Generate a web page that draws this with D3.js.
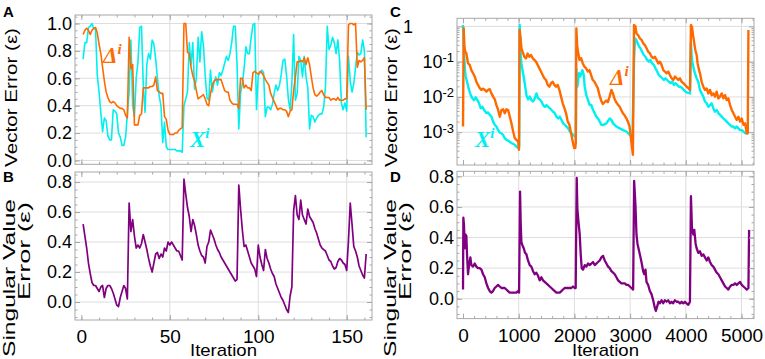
<!DOCTYPE html>
<html>
<head>
<meta charset="utf-8">
<script src="https://cdn.jsdelivr.net/npm/d3@7/dist/d3.min.js"></script>
<style>
  body { margin: 0; background: #fff; }
  svg text { font-family: "Liberation Sans", Arial, sans-serif; }
</style>
</head>
<body>
<svg id="fig" width="765" height="359"></svg>
<script>
// ---- values ----
// A: vector error, one value per iteration (1..161)
var aDelta = [
  .92,.95,.965,.95,.92,.95,.965,.97,.93,.85,
  .78,.68,.58,.50,.46,.43,.42,.43,.42,.40,
  .39,.38,.38,.37,.33,.31,.90,.67,.70,.26,
  .26,.26,.33,.34,.53,.53,.53,.53,.54,.54,
  .55,.61,.51,.50,.49,.49,.32,.30,.22,.19,
  .19,.19,.20,.20,.22,.23,.24,1.0,1.0,.79,
  .78,.68,.62,.58,.51,.45,.46,.47,.48,.45,
  .41,.40,.49,.55,.58,.59,.59,.59,.59,.55,
  .51,.50,.50,.44,.42,.41,.41,.41,.38,.60,
  .60,.53,.55,.53,.53,.51,.64,.65,.64,.63,
  .65,.64,.62,.59,.57,.55,.49,.46,.43,.40,
  .37,.38,.38,.37,.37,.36,.32,.36,.37,.51,
  .61,.72,.72,.73,.72,.75,.70,.75,.70,.61,
  .53,.48,.47,.48,.50,.51,.48,.46,.46,.46,
  .44,.45,.45,.44,.46,.44,.44,.44,.45,.45,
  .99,1.0,1.0,.99,1.0,.68,.73,.72,.73,.75,
  .37
];
var aX = [
  .74,.86,.86,.97,.98,1.0,.96,.96,.62,.50,
  .35,.21,.31,.29,.18,.15,.15,.37,.36,.34,
  .20,.17,.11,.11,.17,.34,.50,.88,.40,.32,
  .60,.72,.97,.98,.55,.35,.70,.78,.74,.88,
  .85,.74,.60,.47,.40,.13,.28,.10,.08,.08,
  .08,.08,.08,.07,.07,.07,.06,.40,.45,.50,
  .86,.70,.86,.52,.60,.90,.72,.94,.84,.62,
  .46,.44,.66,.50,.57,.61,.55,.64,.62,.66,
  .71,.76,.73,.78,.86,.98,.98,.70,.23,.49,
  .56,.67,.83,.78,.78,.90,.99,1.0,.37,.62,
  .64,.66,.64,.32,.39,.39,.37,.41,.49,.55,
  .51,.55,.63,.73,.74,.62,.45,.37,.56,.92,
  .44,.49,.76,.73,.61,.76,.61,.53,.23,.33,
  .32,.28,.31,.33,.34,.34,.39,.54,.98,.81,
  .84,.90,.86,.78,.88,.73,.42,.37,.42,.36,
  .76,.58,.50,.56,.68,.79,.77,.78,.88,.80,
  .17
];
// B: singular value error, iterations 1..161
var bSing = [
  .52,.44,.36,.26,.19,.13,.11,.11,.09,.07,
  .10,.11,.03,.09,.11,.11,.09,.06,.02,-.02,
  -.03,.03,.07,.11,.09,.02,.66,.47,.55,.44,
  .36,.38,.36,.39,.45,.40,.35,.29,.24,.20,
  .26,.32,.33,.29,.32,.30,.36,.34,.40,.38,
  .40,.38,.36,.34,.34,.31,.28,.82,.72,.63,
  .57,.47,.55,.51,.45,.38,.34,.31,.30,.26,
  .37,.40,.48,.45,.42,.38,.35,.33,.30,.28,
  .26,.24,.22,.20,.18,.16,.14,.15,.78,.62,
  .48,.37,.38,.34,.30,.26,.24,.22,.17,.38,
  .30,.25,.21,.35,.29,.26,.22,.19,.17,.12,
  .09,.06,.03,.01,-.02,-.05,-.07,.04,.10,.61,
  .71,.58,.55,.68,.58,.55,.52,.62,.57,.55,
  .53,.49,.46,.42,.38,.36,.35,.34,.31,.28,
  .27,.24,.22,.23,.27,.29,.28,.26,.25,.21,
  .41,.66,.52,.37,.34,.30,.24,.21,.18,.16,
  .32
];
// C: vector error, [iteration, log10(error)]
var cDelta = [
  [0,-2.84],[12,-0.05],[25,-0.55],[40,-0.72],[60,-0.76],[90,-1.05],[120,-1.09],[150,-1.24],
  [180,-1.33],[210,-1.42],[240,-1.57],[270,-1.66],[300,-1.75],[330,-1.80],[360,-1.77],[390,-1.80],
  [420,-1.85],[450,-1.80],[480,-1.78],[510,-1.90],[540,-1.99],[570,-2.07],[600,-2.23],[630,-2.37],
  [660,-2.56],[690,-2.37],[720,-2.35],[750,-2.46],[780,-2.35],[810,-2.37],[840,-2.56],[870,-2.75],
  [900,-2.98],[930,-3.17],[960,-3.22],[990,-3.27],[1005,-3.50],
  [1015,-0.10],[1030,-0.29],[1050,-0.62],[1070,-0.72],[1100,-0.86],[1130,-0.91],[1160,-0.77],
  [1190,-0.86],[1220,-0.81],[1250,-0.90],[1280,-0.95],[1310,-1.00],[1340,-1.09],[1370,-1.19],
  [1400,-1.28],[1430,-1.38],[1460,-1.47],[1490,-1.52],[1520,-1.66],[1550,-1.71],[1580,-1.61],
  [1610,-1.57],[1640,-1.66],[1670,-1.71],[1700,-1.66],[1730,-1.80],[1760,-1.99],[1790,-2.18],
  [1820,-2.32],[1850,-2.46],[1880,-2.70],[1910,-2.79],[1940,-3.03],[1970,-3.27],[1995,-3.45],
  [2015,-3.45],[2025,-3.30],
  [2035,-0.06],[2050,-0.57],[2070,-0.76],[2090,-0.95],[2120,-0.90],[2150,-1.05],[2180,-1.14],
  [2210,-1.19],[2240,-1.28],[2270,-1.24],[2300,-1.38],[2330,-1.52],[2360,-1.57],[2390,-1.66],
  [2420,-1.75],[2450,-1.95],[2480,-2.10],[2510,-2.20],[2540,-2.15],[2570,-2.10],[2600,-2.15],
  [2630,-2.00],[2665,-1.80],[2690,-1.90],[2720,-2.05],[2750,-2.15],[2780,-2.22],[2810,-2.27],
  [2840,-2.37],[2870,-2.46],[2900,-2.52],[2930,-2.60],[2960,-2.70],[2990,-2.84],[3010,-3.10],
  [3050,-3.64],
  [3070,0.04],[3095,0.00],[3115,-0.20],[3145,-0.25],[3175,-0.34],[3205,-0.38],[3235,-0.48],
  [3265,-0.53],[3295,-0.62],[3325,-0.72],[3355,-0.76],[3385,-0.86],[3415,-0.90],[3445,-0.86],
  [3475,-0.95],[3505,-1.05],[3535,-1.00],[3565,-1.09],[3595,-1.24],[3625,-1.28],[3655,-1.33],
  [3685,-1.28],[3715,-1.38],[3745,-1.47],[3775,-1.52],[3805,-1.42],[3835,-1.47],[3865,-1.52],
  [3895,-1.47],[3925,-1.57],[3955,-1.61],[3985,-1.66],[4015,-1.71],[4045,-1.75],[4075,-1.80],
  [4092,0.04],[4110,-0.01],[4134,-0.29],[4152,-0.48],[4170,-0.67],[4194,-0.81],[4212,-1.05],
  [4230,-1.19],[4254,-1.33],[4284,-1.57],[4314,-1.71],[4344,-1.80],[4374,-1.76],[4404,-1.90],
  [4434,-1.80],[4464,-1.95],[4494,-1.90],[4524,-1.99],[4554,-1.85],[4584,-2.04],[4614,-1.99],
  [4644,-1.90],[4674,-2.04],[4704,-1.95],[4734,-2.09],[4764,-2.04],[4794,-2.23],[4824,-2.37],
  [4854,-2.46],[4884,-2.56],[4914,-2.65],[4944,-2.56],[4974,-2.70],[5004,-2.61],[5034,-2.79],
  [5064,-2.75],[5094,-3.03],[5112,-3.03],[5124,-0.10]
];
var cX = [
  [0,0.04],[18,-0.76],[36,-1.24],[48,-1.42],[72,-1.57],[108,-1.80],[138,-1.95],[168,-2.04],
  [198,-2.09],[228,-2.01],[258,-2.09],[288,-2.18],[318,-2.32],[348,-2.28],[378,-2.37],[420,-2.46],
  [450,-2.44],[480,-2.51],[510,-2.56],[540,-2.70],[570,-2.79],[600,-2.84],[630,-2.94],[660,-3.01],
  [690,-3.03],[720,-3.08],[750,-3.17],[780,-3.22],[810,-3.24],[840,-3.27],[870,-3.31],[900,-3.33],
  [930,-3.36],[960,-3.41],[990,-3.45],[1008,-3.40],
  [1018,0.04],[1030,-0.67],[1048,-1.05],[1078,-1.33],[1108,-1.61],[1138,-1.95],[1168,-2.07],
  [1198,-1.99],[1228,-2.09],[1258,-2.13],[1288,-2.04],[1318,-1.90],[1348,-2.04],[1378,-2.07],
  [1408,-2.13],[1438,-2.23],[1468,-2.28],[1498,-2.23],[1528,-2.28],[1558,-2.32],[1588,-2.37],
  [1618,-2.42],[1648,-2.46],[1678,-2.56],[1708,-2.61],[1738,-2.56],[1768,-2.65],[1798,-2.75],
  [1828,-2.79],[1858,-2.84],[1888,-2.89],[1918,-2.98],[1948,-3.03],[1978,-3.08],[2008,-3.12],
  [2025,-3.10],
  [2035,-1.20],[2053,-1.71],[2083,-1.33],[2107,-1.42],[2143,-1.24],[2167,-1.38],[2185,-1.71],
  [2214,-1.95],[2244,-2.09],[2274,-2.23],[2304,-2.23],[2334,-2.37],[2364,-2.46],[2394,-2.56],
  [2424,-2.61],[2454,-2.70],[2484,-2.79],[2514,-2.80],[2574,-2.75],[2634,-2.61],[2664,-2.65],
  [2694,-2.75],[2754,-2.84],[2814,-2.89],[2874,-2.94],[2934,-2.98],[2994,-3.08],[3042,-3.12],
  [3070,-0.95],[3090,-0.34],[3110,-0.38],[3135,-0.48],[3160,-0.57],[3185,-0.62],[3215,-0.72],
  [3245,-0.81],[3275,-0.86],[3305,-0.95],[3335,-1.00],[3365,-0.95],[3395,-1.05],[3425,-1.09],
  [3455,-1.19],[3485,-1.28],[3515,-1.38],[3545,-1.42],[3575,-1.47],[3605,-1.52],[3635,-1.47],
  [3665,-1.52],[3695,-1.57],[3725,-1.61],[3755,-1.57],[3785,-1.66],[3815,-1.61],[3845,-1.66],
  [3875,-1.71],[3905,-1.71],[3935,-1.75],[3965,-1.80],[3995,-1.85],[4025,-1.88],[4075,-1.90],
  [4092,-0.48],[4110,-0.95],[4140,-1.19],[4164,-1.33],[4194,-1.47],[4224,-1.57],[4254,-1.80],
  [4284,-1.90],[4314,-1.99],[4344,-2.13],[4374,-2.18],[4404,-2.28],[4434,-2.23],[4464,-2.18],
  [4494,-2.32],[4524,-2.42],[4554,-2.37],[4584,-2.46],[4614,-2.51],[4644,-2.56],[4674,-2.61],
  [4704,-2.65],[4734,-2.70],[4764,-2.75],[4794,-2.79],[4824,-2.84],[4854,-2.84],[4884,-2.89],
  [4914,-2.84],[4944,-2.89],[4974,-2.94],[5004,-2.94],[5034,-2.98],[5064,-3.03],[5094,-3.03],
  [5112,-3.05]
];
// D: singular value error, [iteration, error]
var dSing = [
  [0,.06],[6,.53],[18,.48],[30,.33],[42,.42],[60,.41],[72,.29],[90,.16],[108,.22],[132,.27],
  [150,.22],[180,.21],[210,.23],[240,.21],[270,.20],[300,.20],[330,.19],[360,.16],[390,.14],
  [420,.10],[450,.07],[479,.05],[509,.04],[539,.05],[569,.07],[599,.08],[629,.09],[659,.08],
  [689,.07],[719,.07],[749,.07],[778,.06],[808,.05],[838,.04],[868,.04],[898,.04],[928,.04],
  [958,.04],[988,.05],[1006,.04],
  [1024,.70],[1036,.49],[1048,.37],[1066,.35],[1090,.33],[1114,.30],[1138,.29],[1167,.25],
  [1197,.22],[1227,.21],[1257,.18],[1287,.16],[1317,.17],[1347,.15],[1377,.12],[1407,.14],
  [1436,.12],[1466,.11],[1496,.10],[1526,.09],[1556,.08],[1586,.07],[1616,.06],[1646,.05],
  [1676,.04],[1706,.04],[1736,.04],[1766,.05],[1795,.06],[1825,.07],[1855,.07],[1885,.07],
  [1915,.07],[1945,.07],[1975,.08],[2005,.07],[2023,.07],
  [2041,.79],[2053,.59],[2071,.51],[2095,.42],[2113,.29],[2131,.20],[2155,.19],[2185,.22],
  [2214,.21],[2244,.23],[2274,.22],[2304,.23],[2334,.24],[2364,.22],[2394,.23],[2424,.24],
  [2454,.25],[2484,.27],[2514,.28],[2544,.25],[2574,.23],[2604,.21],[2634,.20],[2664,.18],
  [2694,.17],[2724,.16],[2754,.14],[2784,.12],[2814,.11],[2844,.10],[2874,.10],[2904,.10],
  [2934,.09],[2964,.09],[2994,.08],[3024,.07],[3054,.06],
  [3072,.77],[3096,.61],[3114,.42],[3132,.36],[3156,.32],[3174,.29],[3204,.24],[3234,.18],
  [3252,.16],[3276,.19],[3294,.11],[3324,.09],[3354,.05],[3384,.03],[3414,-.01],[3444,-.06],
  [3462,-.08],[3486,-.05],[3510,-.02],[3534,-.03],[3564,-.01],[3594,-.03],[3624,-.01],[3654,-.02],
  [3684,-.01],[3714,-.03],[3744,-.02],[3774,-.03],[3804,-.01],[3834,-.02],[3864,-.02],[3894,-.03],
  [3924,-.02],[3954,-.03],[3984,-.02],[4014,-.03],[4044,-.04],[4074,-.02],
  [4092,.67],[4110,.46],[4134,.42],[4152,.45],[4176,.36],[4194,.33],[4224,.30],[4254,.31],
  [4284,.28],[4314,.29],[4344,.27],[4374,.25],[4404,.27],[4434,.24],[4464,.22],[4494,.21],
  [4524,.19],[4554,.17],[4584,.16],[4614,.14],[4644,.12],[4674,.10],[4704,.08],[4734,.07],
  [4764,.06],[4794,.08],[4824,.09],[4854,.09],[4884,.10],[4914,.09],[4944,.10],[4974,.11],
  [5004,.09],[5034,.08],[5064,.07],[5094,.06],[5124,.07],[5136,.45]
];

var ticksAB = [0, 50, 100, 150];
var ticksCD = [0, 1000, 2000, 3000, 4000, 5000];
var ticksYA = [0, 0.2, 0.4, 0.6, 0.8, 1.0];
var ticksYB = [0, 0.2, 0.4, 0.6, 0.8];
var ticksYC = [1, 0.1, 0.01, 0.001];

var orange = "#ff6a00", cyan = "#00f0f0", purple = "#800080";
var frameCol = "#a8a8a8", gridCol = "#dddddd";

var svg = d3.select("#fig");

// scales, one pair per panel
var xA = d3.scaleLinear().domain([-3.6, 164.3]).range([75, 372]);
var yA = d3.scaleLinear().domain([-0.028, 1.062]).range([164.3, 15]);
var yB = d3.scaleLinear().domain([-0.12, 0.867]).range([320, 172]);
var xC = d3.scaleLinear().domain([-108, 5224]).range([457, 754]);
var yC = d3.scaleLog().domain([Math.pow(10, -3.93), Math.pow(10, 0.23)]).range([165, 18.3]);
var yD = d3.scaleLinear().domain([-0.13, 0.833]).range([318.6, 171.3]);

function stepVals(lo, hi, step) {
  var out = [];
  for (var v = lo; v <= hi + 1e-9; v += step) out.push(+v.toFixed(4));
  return out;
}
var logMinor = [];
[-4, -3, -2, -1, 0].forEach(function (e) {
  for (var k = 2; k <= 9; k++) logMinor.push(k * Math.pow(10, e));
});

function panel(id, x, y, o) {
  var g = svg.append("g");
  var xr = x.range(), yr = y.range();
  var left = xr[0], right = xr[1], top = yr[1], bottom = yr[0];

  g.append("clipPath").attr("id", "clip" + id)
    .append("rect").attr("x", left).attr("y", top)
    .attr("width", right - left).attr("height", bottom - top);

  // grid lines
  g.selectAll(".gx").data(o.gridX).enter().append("line")
    .attr("x1", d => x(d)).attr("x2", d => x(d))
    .attr("y1", top).attr("y2", bottom)
    .attr("stroke", gridCol).attr("stroke-width", 1);
  g.selectAll(".gy").data(o.gridY).enter().append("line")
    .attr("x1", left).attr("x2", right)
    .attr("y1", d => y(d)).attr("y2", d => y(d))
    .attr("stroke", gridCol).attr("stroke-width", 1);

  // series
  var lines = g.append("g").attr("clip-path", "url(#clip" + id + ")");
  o.series.forEach(function (s) {
    lines.append("path").datum(s.data)
      .attr("fill", "none").attr("stroke", s.color)
      .attr("stroke-width", s.width).attr("stroke-linejoin", "round")
      .attr("d", d3.line().x(d => x(d[0])).y(d => y(d[1])));
  });

  // frame + inward ticks on all four sides
  g.append("rect").attr("x", left).attr("y", top)
    .attr("width", right - left).attr("height", bottom - top)
    .attr("fill", "none").attr("stroke", frameCol);

  function ax(gen, scale, vals, size, tx, ty) {
    var a = g.append("g").attr("transform", "translate(" + tx + "," + ty + ")")
      .call(gen(scale).tickValues(vals).tickSize(-size).tickFormat(""));
    a.select(".domain").remove();
    a.selectAll("line").attr("stroke", frameCol);
    return a;
  }
  ax(d3.axisBottom, x, o.xMajor, 5, 0, bottom);
  ax(d3.axisBottom, x, o.xMinor, 2.5, 0, bottom);
  ax(d3.axisTop, x, o.xMajor, 5, 0, top);
  ax(d3.axisTop, x, o.xMinor, 2.5, 0, top);
  ax(d3.axisLeft, y, o.yMajor, 5, left, 0);
  ax(d3.axisLeft, y, o.yMinor, 2.5, left, 0);
  ax(d3.axisRight, y, o.yMajor, 5, right, 0);
  ax(d3.axisRight, y, o.yMinor, 2.5, right, 0);

  // labels
  var yl = g.append("g").attr("transform", "translate(" + left + ",0)")
    .call(d3.axisLeft(y).tickValues(o.yMajor).tickSize(0).tickPadding(3)
      .tickFormat(o.yFormat || d3.format(".1f")));
  yl.select(".domain").remove();
  yl.selectAll("text").attr("font-size", 18).attr("font-family", null).attr("fill", "#000");
  if (o.xLabels) {
    var xl = g.append("g").attr("transform", "translate(0," + bottom + ")")
      .call(d3.axisBottom(x).tickValues(o.xMajor).tickSize(0)
        .tickPadding(342.5 - bottom - 0.71 * 19)
        .tickFormat(d3.format("d")));
    xl.select(".domain").remove();
    xl.selectAll("text").attr("font-size", 19).attr("font-family", null).attr("fill", "#000");
  }
  return yl;
}

var iterA = d3.range(1, aDelta.length + 1);
var pairs = function (vals) { return vals.map((v, i) => [iterA[i], v]); };
var fromLog = function (arr) { return arr.map(d => [d[0], Math.pow(10, d[1])]); };

panel("A", xA, yA, {
  gridX: [50, 100, 150], gridY: ticksYA,
  xMajor: ticksAB, xMinor: stepVals(0, 160, 10),
  yMajor: ticksYA, yMinor: stepVals(0, 1.05, 0.05),
  series: [
    { data: pairs(aX), color: cyan, width: 1.6 },
    { data: pairs(aDelta), color: orange, width: 1.6 }
  ]
});
panel("B", xA, yB, {
  gridX: [50, 100, 150], gridY: ticksYB,
  xMajor: ticksAB, xMinor: stepVals(0, 160, 10),
  yMajor: ticksYB, yMinor: stepVals(-0.1, 0.85, 0.05),
  xLabels: true,
  series: [{ data: pairs(bSing), color: purple, width: 1.7 }]
});
var ylC = panel("C", xC, yC, {
  gridX: [1000, 2000, 3000, 4000, 5000], gridY: ticksYC,
  xMajor: ticksCD, xMinor: stepVals(0, 5200, 200),
  yMajor: ticksYC, yMinor: logMinor.filter(v => v > 1.2e-4 && v < 1.6),
  yFormat: d => "",
  series: [
    { data: fromLog(cX), color: cyan, width: 2.4 },
    { data: fromLog(cDelta), color: orange, width: 2.4 }
  ]
});
// powers of ten on the log axis
ylC.selectAll(".tick text").each(function (d) {
  var t = d3.select(this);
  if (d === 1) { t.text("1").attr("x", -44); return; }
  var e = Math.round(Math.log10(d));
  t.append("tspan").text("10");
  t.append("tspan").attr("font-size", 13).attr("dy", "-0.45em").text(String(e));
});
panel("D", xC, yD, {
  gridX: [1000, 2000, 3000, 4000, 5000], gridY: ticksYB,
  xMajor: ticksCD, xMinor: stepVals(0, 5200, 200),
  yMajor: ticksYB, yMinor: stepVals(-0.1, 0.8, 0.05),
  xLabels: true,
  series: [{ data: dSing, color: purple, width: 2.3 }]
});

// axis titles (the figure is stretched vertically, so the text is stretched along its length)
function vtitle(txt, x, yStart, len, size) {
  svg.append("text")
    .attr("transform", "translate(" + x + "," + yStart + ") rotate(-90)")
    .attr("font-size", size).attr("textLength", len).attr("lengthAdjust", "spacingAndGlyphs")
    .attr("fill", "#000")
    .text(txt);
}
vtitle("Vector Error (\u03b5)", 17, 167, 139, 17);
vtitle("Singular Value", 15, 357, 158, 16);
vtitle("Error (\u03b5)", 30, 300, 98, 16);
vtitle("Vector Error (\u03b5)", 397, 167, 139, 17);
vtitle("Singular Value", 396, 357, 158, 16);
vtitle("Error (\u03b5)", 411, 300, 98, 16);
[223.5, 605.5].forEach(function (cx) {
  svg.append("text").attr("x", cx).attr("y", 356).attr("text-anchor", "middle")
    .attr("font-size", 17).attr("textLength", 67).attr("lengthAdjust", "spacingAndGlyphs")
    .attr("fill", "#000").text("Iteration");
});

// panel letters
[["A", 3, 17], ["B", 3, 182], ["C", 390, 17], ["D", 390, 182]].forEach(function (p) {
  svg.append("text").attr("x", p[1]).attr("y", p[2]).attr("fill", "#000")
    .attr("font-size", 15).attr("font-weight", "bold").text(p[0]);
});

// series labels
function seriesLabel(sym, x, y, color) {
  var t = svg.append("text").attr("x", x).attr("y", y)
    .style("font-family", "'Liberation Serif', serif").style("font-style", "italic")
    .style("font-weight", "bold")
    .attr("font-size", 23).style("fill", color);
  t.append("tspan").text(sym);
  t.append("tspan").attr("font-size", 15).attr("dy", -9).text("i");
}
seriesLabel("\u0394", 103, 63, orange);
seriesLabel("X", 190, 147, cyan);
seriesLabel("\u0394", 610, 85, orange);
seriesLabel("X", 475, 147, cyan);
</script>
</body>
</html>
